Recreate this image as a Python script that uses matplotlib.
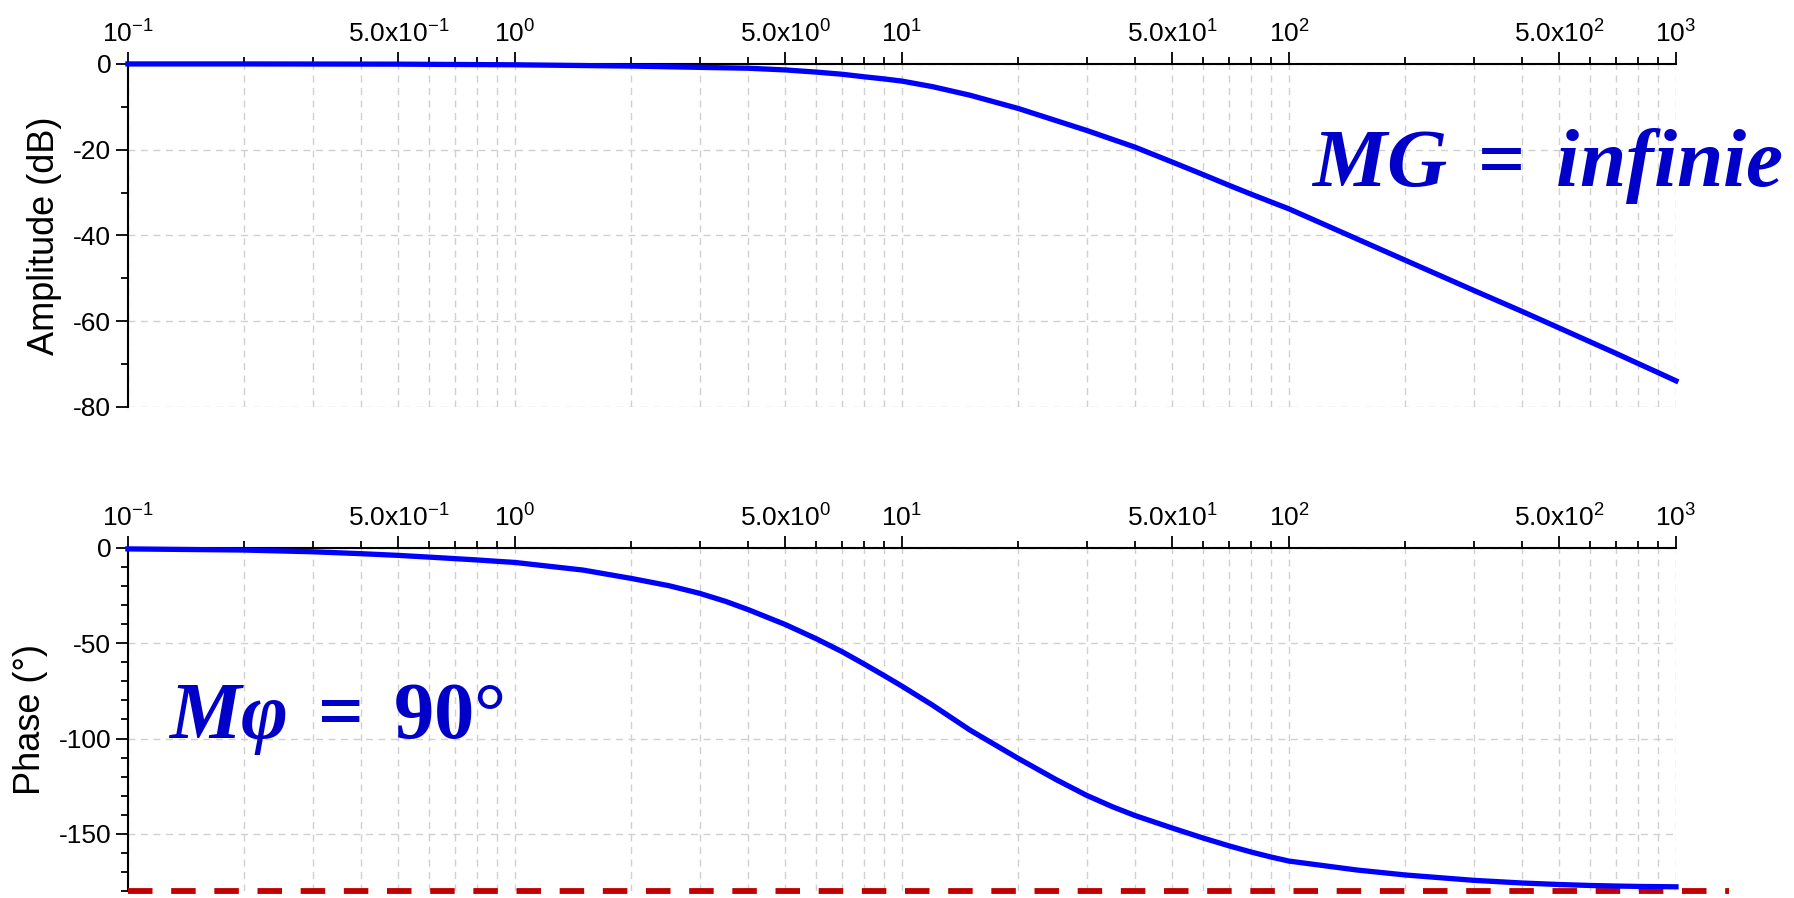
import numpy as np
import matplotlib
matplotlib.use("Agg")
import matplotlib.pyplot as plt
from matplotlib.ticker import FixedLocator, LogLocator, MultipleLocator, NullFormatter

plt.rcParams['font.family'] = ['Liberation Sans', 'DejaVu Sans']
plt.rcParams['axes.unicode_minus'] = False
plt.rcParams['mathtext.fontset'] = 'custom'
plt.rcParams['mathtext.sf'] = 'Liberation Sans'
plt.rcParams['mathtext.rm'] = 'Liberation Serif:bold'
plt.rcParams['mathtext.it'] = 'Liberation Serif:bold:italic'

# values
amp_freq = [0.1, 0.2, 0.5, 1, 2, 3, 4, 5, 6, 7, 8, 9, 10, 12, 15, 20, 30, 40, 50,
            60, 70, 80, 90, 100, 200, 300, 400, 500, 600, 700, 800, 900, 1000]
amp_db = [0, 0, -0.05, -0.2, -0.5, -0.8, -1.0, -1.4, -1.9, -2.4, -3.0, -3.5, -4.0,
          -5.3, -7.3, -10.4, -15.5, -19.4, -22.9, -25.8, -28.3, -30.4, -32.2, -33.8,
          -45.8, -52.8, -57.7, -61.6, -64.8, -67.5, -69.9, -72.0, -73.9]

ph_freq = [0.1, 0.2, 0.3, 0.4, 0.5, 0.6, 0.7, 0.8, 0.9, 1, 1.5, 2, 2.5, 3, 3.5, 4, 5,
           6, 7, 8, 9, 10, 12, 15, 20, 25, 30, 35, 40, 50, 60, 70, 80, 90, 100, 150,
           200, 300, 400, 500, 600, 700, 800, 900, 1000]
ph_deg = [-0.5, -1.1, -2.0, -3.0, -3.9, -4.8, -5.6, -6.3, -7.0, -7.6, -11.6, -16.0,
          -19.8, -23.8, -28.0, -32.3, -40.2, -47.6, -54.4, -61.0, -67.0, -72.5, -82.5,
          -95.6, -110.5, -121.5, -129.8, -135.8, -140.4, -147.0, -152.2, -156.3,
          -159.6, -162.2, -164.3, -169.0, -171.6, -174.4, -175.8, -176.6, -177.1,
          -177.4, -177.6, -177.7, -177.8]

limit_freq = [0.1, 1370]
limit_deg = [-180, -180]

xtick_vals = [0.1, 0.5, 1, 5, 10, 50, 100, 500, 1000]
xtick_labels = [r'$\mathsf{10^{-1}}$', r'$\mathsf{5.0x10^{-1}}$', r'$\mathsf{10^{0}}$',
                r'$\mathsf{5.0x10^{0}}$', r'$\mathsf{10^{1}}$', r'$\mathsf{5.0x10^{1}}$',
                r'$\mathsf{10^{2}}$', r'$\mathsf{5.0x10^{2}}$', r'$\mathsf{10^{3}}$']

amp_ticks = [0, -20, -40, -60, -80]
ph_ticks = [0, -50, -100, -150]

blue = '#0000FF'
text_blue = '#0000C8'
grid_kw = dict(color='#d0d0d0', linestyle=(0, (5, 4)), linewidth=1.0)

fig = plt.figure(figsize=(17.94, 8.98), dpi=100)
ax1 = fig.add_axes([0.0713, 0.5468, 0.8629, 0.3820])
ax2 = fig.add_axes([0.0713, 0.0078, 0.8629, 0.3820])


def style_axis(ax, yticks, ylim, label):
    ax.set_xscale('log')
    ax.set_xlim(0.1, 1000)
    ax.set_ylim(*ylim)
    ax.xaxis.set_major_locator(FixedLocator(xtick_vals))
    ax.set_xticklabels(xtick_labels)
    ax.xaxis.set_minor_locator(LogLocator(base=10, subs=(2, 3, 4, 6, 7, 8, 9), numticks=20))
    ax.xaxis.set_minor_formatter(NullFormatter())
    ax.set_yticks(yticks)
    ax.yaxis.set_minor_locator(MultipleLocator(10))
    ax.xaxis.tick_top()
    for s in ['bottom', 'right']:
        ax.spines[s].set_visible(False)
    for s in ['top', 'left']:
        ax.spines[s].set_linewidth(1.5)
    ax.tick_params(axis='x', which='major', direction='out', length=9, width=1.3,
                   labelsize=19, pad=3)
    ax.tick_params(axis='x', which='minor', direction='out', length=5, width=1.3)
    ax.tick_params(axis='y', which='major', direction='out', length=9, width=1.3,
                   labelsize=19, pad=3)
    ax.tick_params(axis='y', which='minor', direction='out', length=5, width=1.3)
    ax.grid(True, axis='x', which='both', **grid_kw)
    ax.grid(True, axis='y', which='major', **grid_kw)
    ax.set_axisbelow(True)
    ax.set_ylabel(label, fontsize=26, labelpad=8)


style_axis(ax1, amp_ticks, (-80, 0), 'Amplitude (dB)')
style_axis(ax2, ph_ticks, (-180, 0), 'Phase (°)')

ax1.plot(amp_freq, amp_db, color=blue, linewidth=3.8, clip_on=False, zorder=5)
ax2.plot(limit_freq, limit_deg, color='#C00000', linewidth=4.2,
         linestyle=(0, (4.2, 3.2)), clip_on=False, zorder=4)
ax2.plot(ph_freq, ph_deg, color=blue, linewidth=3.8, clip_on=False, zorder=5)

ax1.text(0.764, 0.644, r'$MG\;=\;infinie$', transform=ax1.transAxes, fontsize=60,
         color=text_blue, ha='left', va='baseline', clip_on=False)
ax2.text(0.026, 0.446, r'$M\varphi\;=\;90°$', transform=ax2.transAxes, fontsize=58,
         color=text_blue, ha='left', va='baseline', clip_on=False)

fig.savefig('out.png', dpi=100)
